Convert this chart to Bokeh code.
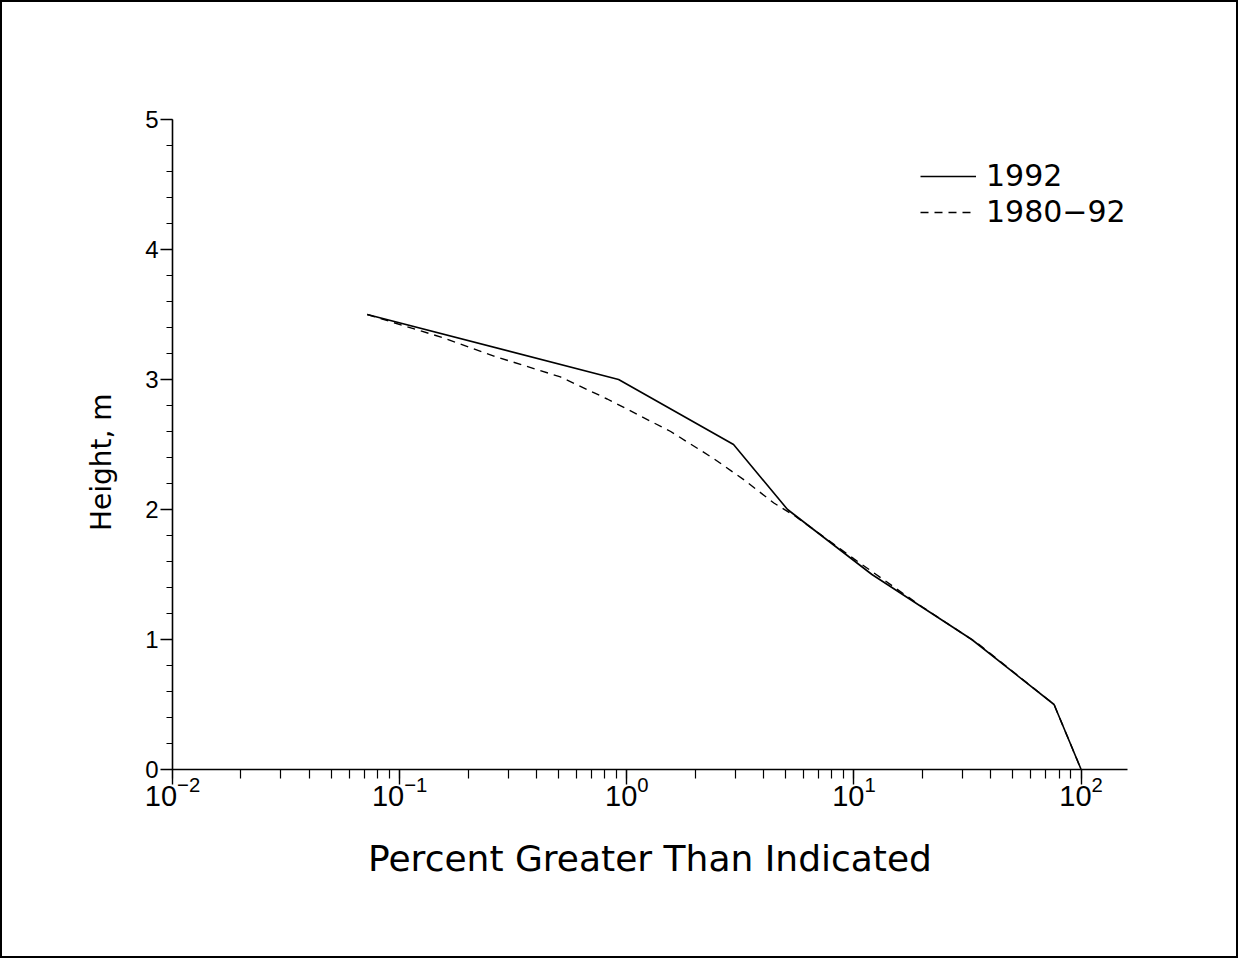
from bokeh.plotting import figure
from bokeh.models import Range1d, SingleIntervalTicker, LogTicker, Legend, LegendItem
from bokeh.embed import file_html
from bokeh.resources import INLINE
from bokeh.layouts import column

# Percent greater than indicated (x) vs height in m (y)
pct_1992 = [0.072, 0.92, 2.95, 5.1, 12.0, 33.0, 76.0, 100.0]
hgt_1992 = [3.5, 3.0, 2.5, 2.0, 1.5, 1.0, 0.5, 0.0]

pct_1980_92 = [0.072, 0.156, 0.26, 0.51, 0.82, 1.56, 2.42, 3.27, 4.44, 5.5,
               10.0, 13.5, 20.0, 35.0, 76.0, 100.0]
hgt_1980_92 = [3.5, 3.32, 3.18, 3.02, 2.85, 2.60, 2.39, 2.23, 2.05, 1.95,
               1.62, 1.46, 1.25, 0.97, 0.5, 0.0]

series_labels = ["1992", "1980\u221292"]
x_title = "Percent Greater Than Indicated"
y_title = "Height, m"

W, H = 1234, 954
p = figure(width=W, height=H, x_axis_type="log",
           x_range=Range1d(0.01, 160), y_range=Range1d(0, 5),
           output_backend="svg", toolbar_location=None,
           min_border_left=170, min_border_right=109,
           min_border_top=117, min_border_bottom=187)
p.outline_line_color = None
p.xgrid.visible = False
p.ygrid.visible = False
p.background_fill_color = "white"
p.border_fill_color = "white"

r1 = p.line(pct_1992, hgt_1992, line_color="black", line_width=1.6)
r2 = p.line(pct_1980_92, hgt_1980_92, line_color="black", line_width=1.4,
            line_dash="8 6")

legend = Legend(items=[LegendItem(label=series_labels[0], renderers=[r1]),
                       LegendItem(label=series_labels[1], renderers=[r2])],
                location=(748, 540))
legend.border_line_color = None
legend.background_fill_alpha = 0
legend.label_text_font = "DejaVu Sans"
legend.label_text_font_size = "30px"
legend.label_text_color = "black"
legend.glyph_width = 56
legend.glyph_height = 30
legend.label_height = 30
legend.label_standoff = 10
legend.spacing = 1
legend.padding = 0
legend.margin = 0
p.add_layout(legend)

xa = p.xaxis[0]
xa.ticker = LogTicker(num_minor_ticks=10)
xa.axis_label = x_title
xa.axis_label_text_font = "DejaVu Sans"
xa.axis_label_text_font_style = "normal"
xa.axis_label_text_font_size = "36px"
xa.axis_label_standoff = 29
xa.major_label_text_font = "Liberation Sans"
xa.major_label_text_font_size = "29px"
xa.major_label_standoff = -9
xa.major_tick_out = 15
xa.major_tick_in = 0
xa.minor_tick_out = 9
xa.minor_tick_in = 0

ya = p.yaxis[0]
ya.ticker = SingleIntervalTicker(interval=1, num_minor_ticks=5)
ya.axis_label = y_title + "\u00a0\u00a0\u00a0\u00a0"
ya.axis_label_text_font = "DejaVu Sans"
ya.axis_label_text_font_style = "normal"
ya.axis_label_text_font_size = "28px"
ya.axis_label_standoff = 24
ya.major_label_text_font = "Liberation Sans"
ya.major_label_text_font_size = "24px"
ya.major_label_standoff = 2
ya.major_tick_out = 12
ya.major_tick_in = 0
ya.minor_tick_out = 6
ya.minor_tick_in = 0

for ax in (xa, ya):
    ax.axis_line_color = "black"
    ax.axis_line_width = 1.6
    ax.major_tick_line_color = "black"
    ax.major_tick_line_width = 1.4
    ax.minor_tick_line_color = "black"
    ax.minor_tick_line_width = 1.2
    ax.major_label_text_color = "black"
    ax.axis_label_text_color = "black"

lay = column(p, styles={"border": "2px solid black"})
open("out.html", "w").write(file_html(lay, INLINE))
